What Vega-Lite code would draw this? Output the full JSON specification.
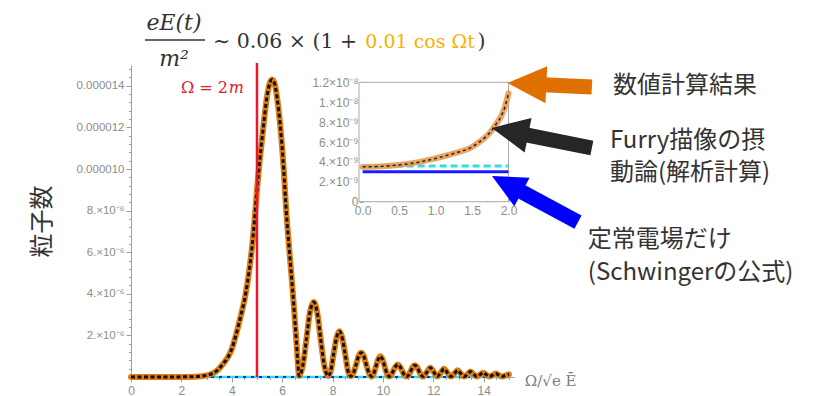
{
  "$schema": "https://vega.github.io/schema/vega-lite/v6.json",
  "width": 383,
  "height": 312,
  "autosize": {"type": "none"},
  "padding": {"left": 131, "top": 65, "right": 303, "bottom": 19},
  "background": "white",
  "config": {
    "view": {"stroke": null},
    "axis": {"grid": false, "labelFont": "Liberation Sans", "labelColor": "#8c8c8c", "domainColor": "#a0a0a0", "tickColor": "#a0a0a0", "labelFlush": false}
  },
  "datasets": {
    "main": [
      {"x": 0, "y": 4e-9}, {"x": 0.5, "y": 4e-9}, {"x": 1, "y": 4e-9}, {"x": 1.5, "y": 5e-9}, {"x": 2, "y": 6e-9},
      {"x": 2.5, "y": 1.5e-8}, {"x": 2.8, "y": 4e-8}, {"x": 3.0, "y": 8e-8}, {"x": 3.15, "y": 1.3e-7}, {"x": 3.3, "y": 2.1e-7},
      {"x": 3.45, "y": 3.5e-7}, {"x": 3.55, "y": 4.8e-7}, {"x": 3.7, "y": 7e-7}, {"x": 3.87, "y": 1.0e-6}, {"x": 4.0, "y": 1.35e-6},
      {"x": 4.15, "y": 1.95e-6}, {"x": 4.35, "y": 2.9e-6}, {"x": 4.55, "y": 4.0e-6}, {"x": 4.7, "y": 5.2e-6}, {"x": 4.8, "y": 6.2e-6},
      {"x": 4.9, "y": 7.5e-6}, {"x": 5.0, "y": 9.0e-6}, {"x": 5.1, "y": 1.03e-5}, {"x": 5.25, "y": 1.2e-5}, {"x": 5.4, "y": 1.35e-5},
      {"x": 5.5, "y": 1.41e-5}, {"x": 5.6, "y": 1.43e-5}, {"x": 5.7, "y": 1.41e-5}, {"x": 5.8, "y": 1.34e-5}, {"x": 5.93, "y": 1.2e-5},
      {"x": 6.06, "y": 1.0e-5}, {"x": 6.16, "y": 8.0e-6}, {"x": 6.29, "y": 6.0e-6}, {"x": 6.4, "y": 4.4e-6}, {"x": 6.5, "y": 2.8e-6},
      {"x": 6.57, "y": 1.6e-6}, {"x": 6.62, "y": 7e-7}, {"x": 6.67, "y": 5e-8},
      {"x": 6.81, "y": 5e-7}, {"x": 6.96, "y": 1.8e-6}, {"x": 7.1, "y": 3.1e-6}, {"x": 7.25, "y": 3.6e-6}, {"x": 7.39, "y": 3.1e-6},
      {"x": 7.53, "y": 1.8e-6}, {"x": 7.68, "y": 5e-7}, {"x": 7.82, "y": 5e-8},
      {"x": 7.93, "y": 3e-7}, {"x": 8.04, "y": 1.1e-6}, {"x": 8.16, "y": 1.9e-6}, {"x": 8.27, "y": 2.2e-6}, {"x": 8.38, "y": 1.9e-6},
      {"x": 8.5, "y": 1.1e-6}, {"x": 8.61, "y": 3e-7}, {"x": 8.72, "y": 4e-8},
      {"x": 8.82, "y": 1.7e-7}, {"x": 8.93, "y": 5.8e-7}, {"x": 9.03, "y": 1.0e-6}, {"x": 9.14, "y": 1.17e-6}, {"x": 9.24, "y": 1.0e-6},
      {"x": 9.34, "y": 5.8e-7}, {"x": 9.45, "y": 1.7e-7}, {"x": 9.55, "y": 3e-8},
      {"x": 9.63, "y": 1.5e-7}, {"x": 9.72, "y": 5e-7}, {"x": 9.81, "y": 8.5e-7}, {"x": 9.89, "y": 1.0e-6}, {"x": 9.98, "y": 8.5e-7},
      {"x": 10.07, "y": 5e-7}, {"x": 10.16, "y": 1.5e-7}, {"x": 10.24, "y": 3e-8},
      {"x": 10.33, "y": 9e-8}, {"x": 10.41, "y": 3e-7}, {"x": 10.5, "y": 5.1e-7}, {"x": 10.59, "y": 6e-7}, {"x": 10.67, "y": 5.1e-7},
      {"x": 10.76, "y": 3e-7}, {"x": 10.85, "y": 9e-8}, {"x": 10.93, "y": 2e-8},
      {"x": 11.01, "y": 8e-8}, {"x": 11.1, "y": 2.8e-7}, {"x": 11.18, "y": 4.8e-7}, {"x": 11.26, "y": 5.6e-7}, {"x": 11.35, "y": 4.8e-7},
      {"x": 11.43, "y": 2.8e-7}, {"x": 11.52, "y": 8e-8}, {"x": 11.6, "y": 2e-8},
      {"x": 11.74, "y": 2.3e-7}, {"x": 11.88, "y": 4.5e-7}, {"x": 12.02, "y": 2.3e-7}, {"x": 12.15, "y": 2e-8},
      {"x": 12.29, "y": 2e-7}, {"x": 12.42, "y": 4e-7}, {"x": 12.56, "y": 2e-7}, {"x": 12.7, "y": 2e-8},
      {"x": 12.83, "y": 1.6e-7}, {"x": 12.96, "y": 3.2e-7}, {"x": 13.09, "y": 1.6e-7}, {"x": 13.22, "y": 2e-8},
      {"x": 13.35, "y": 1.3e-7}, {"x": 13.47, "y": 2.6e-7}, {"x": 13.6, "y": 1.3e-7}, {"x": 13.72, "y": 2e-8},
      {"x": 13.85, "y": 1.1e-7}, {"x": 13.97, "y": 2.1e-7}, {"x": 14.1, "y": 1.1e-7}, {"x": 14.22, "y": 2e-8},
      {"x": 14.35, "y": 9e-8}, {"x": 14.47, "y": 1.7e-7}, {"x": 14.6, "y": 9e-8}, {"x": 14.72, "y": 2e-8},
      {"x": 14.85, "y": 7e-8}, {"x": 15.0, "y": 1.3e-7}
    ],
    "inset": [
      {"x": 0, "y": 3.5e-9}, {"x": 0.25, "y": 3.55e-9}, {"x": 0.5, "y": 3.7e-9}, {"x": 0.75, "y": 3.95e-9},
      {"x": 1.0, "y": 4.35e-9}, {"x": 1.25, "y": 4.85e-9}, {"x": 1.5, "y": 5.5e-9}, {"x": 1.6, "y": 6.0e-9},
      {"x": 1.7, "y": 6.6e-9}, {"x": 1.76, "y": 7.07e-9}, {"x": 1.83, "y": 7.8e-9}, {"x": 1.9, "y": 8.6e-9},
      {"x": 1.95, "y": 9.5e-9}, {"x": 2.0, "y": 1.09e-8}
    ]
  },
  "layer": [
    {
      "layer": [
        {
          "data": {"values": [{}]},
          "mark": {"type": "rect", "fill": "white", "stroke": "#aaaaaa", "strokeWidth": 1},
          "encoding": {
            "x": {"datum": -0.05, "type": "quantitative",
              "scale": {"domain": [-0.05, 2.0], "range": [228, 377.5], "nice": false, "zero": false},
              "axis": {"orient": "bottom", "offset": -175.3, "title": null, "domain": false, "labels": false,
                "values": [0.1, 0.2, 0.3, 0.4, 0.6, 0.7, 0.8, 0.9, 1.1, 1.2, 1.3, 1.4, 1.6, 1.7, 1.8, 1.9],
                "tickSize": -2}},
            "x2": {"datum": 2.0},
            "y": {"datum": 0, "type": "quantitative",
              "scale": {"domain": [0, 1.2e-8], "range": [136.7, 17.3], "nice": false, "zero": false},
              "axis": {"orient": "left", "offset": -228, "title": null, "domain": false, "labels": false,
                "values": [5e-10, 1e-9, 1.5e-9, 2.5e-9, 3e-9, 3.5e-9, 4.5e-9, 5e-9, 5.5e-9, 6.5e-9, 7e-9, 7.5e-9, 8.5e-9, 9e-9, 9.5e-9, 1.05e-8, 1.1e-8, 1.15e-8],
                "tickSize": -2}},
            "y2": {"datum": 1.2e-8}
          }
        },
        {
          "layer": [
            {
              "data": {"values": [{"x": 0, "y": 3.0e-9}, {"x": 2.0, "y": 3.0e-9}]},
              "mark": {"type": "line", "color": "#1a1aff", "strokeWidth": 3},
              "encoding": {
                "x": {"field": "x", "type": "quantitative",
                  "scale": {"domain": [-0.05, 2.0], "range": [228, 377.5], "nice": false, "zero": false},
                  "axis": {"orient": "bottom", "offset": -175.3, "title": null, "domain": false,
                    "values": [0, 0.5, 1.0, 1.5, 2.0], "format": ".1f",
                    "tickSize": -4, "labelFontSize": 12, "labelPadding": 8}},
                "y": {"field": "y", "type": "quantitative",
                  "scale": {"domain": [0, 1.2e-8], "range": [136.7, 17.3], "nice": false, "zero": false},
                  "axis": {"orient": "left", "offset": -228, "title": null, "domain": false,
                    "values": [0, 2e-9, 4e-9, 6e-9, 8e-9, 1e-8, 1.2e-8],
                    "labelExpr": "datum.value < 1e-10 ? '0' : datum.value < 9e-9 ? format(datum.value*1e9, '.0f') + '.×10⁻⁹' : datum.value < 1.1e-8 ? '1.×10⁻⁸' : '1.2×10⁻⁸'",
                    "tickSize": -4, "labelFontSize": 12, "labelPadding": 5}}
              }
            },
            {
              "data": {"values": [{"x": 0, "y": 3.6e-9}, {"x": 2.0, "y": 3.6e-9}]},
              "mark": {"type": "line", "color": "#33dede", "strokeWidth": 3, "strokeDash": [7, 4]},
              "encoding": {"x": {"field": "x", "type": "quantitative"}, "y": {"field": "y", "type": "quantitative"}}
            },
            {
              "data": {"name": "inset"},
              "mark": {"type": "line", "color": "#e8974a", "strokeWidth": 6, "opacity": 0.85, "interpolate": "monotone", "strokeCap": "round"},
              "encoding": {"x": {"field": "x", "type": "quantitative"}, "y": {"field": "y", "type": "quantitative"}}
            },
            {
              "data": {"name": "inset"},
              "mark": {"type": "line", "color": "#222222", "strokeWidth": 1.5, "strokeDash": [3, 3], "interpolate": "monotone"},
              "encoding": {"x": {"field": "x", "type": "quantitative"}, "y": {"field": "y", "type": "quantitative"}}
            }
          ]
        }
      ],
      "resolve": {"scale": {"x": "shared", "y": "shared"}, "axis": {"x": "independent", "y": "independent"}}
    },
    {
      "layer": [
        {
          "data": {"values": [{"x": 0, "y": 3.6e-9}, {"x": 15, "y": 3.6e-9}]},
          "mark": {"type": "line", "color": "#33dede", "strokeWidth": 2.5},
          "encoding": {
            "x": {"field": "x", "type": "quantitative",
              "scale": {"domain": [0, 15.2], "nice": false, "zero": false},
              "axis": {"orient": "bottom", "title": null, "labels": false, "domain": false,
                "values": [0.5, 1, 1.5, 2.5, 3, 3.5, 4.5, 5, 5.5, 6.5, 7, 7.5, 8.5, 9, 9.5, 10.5, 11, 11.5, 12.5, 13, 13.5, 14.5, 15],
                "tickSize": 2.5}},
            "y": {"field": "y", "type": "quantitative",
              "scale": {"domain": [0, 1.5e-5], "nice": false, "zero": false},
              "axis": {"orient": "left", "title": null, "labels": false, "domain": false,
                "values": [4e-7, 8e-7, 1.2e-6, 1.6e-6, 2.4e-6, 2.8e-6, 3.2e-6, 3.6e-6, 4.4e-6, 4.8e-6, 5.2e-6, 5.6e-6, 6.4e-6, 6.8e-6, 7.2e-6, 7.6e-6, 8.4e-6, 8.8e-6, 9.2e-6, 9.6e-6, 1.04e-5, 1.08e-5, 1.12e-5, 1.16e-5, 1.24e-5, 1.28e-5, 1.32e-5, 1.36e-5, 1.44e-5, 1.48e-5],
                "tickSize": 2.5}}
          }
        },
        {
          "layer": [
            {
              "data": {"values": [{"x": 0, "y": 3.0e-9}, {"x": 15, "y": 3.0e-9}]},
              "mark": {"type": "line", "color": "#1a1aff", "strokeWidth": 2, "strokeDash": [3, 5]},
              "encoding": {
                "x": {"field": "x", "type": "quantitative",
                  "scale": {"domain": [0, 15.2], "nice": false, "zero": false},
                  "axis": {"orient": "bottom", "title": null, "values": [0, 2, 4, 6, 8, 10, 12, 14], "format": "d",
                    "tickSize": 5, "labelFontSize": 12, "labelPadding": 3}},
                "y": {"field": "y", "type": "quantitative",
                  "scale": {"domain": [0, 1.5e-5], "nice": false, "zero": false},
                  "axis": {"orient": "left", "title": "粒子数", "titleFont": "Noto Sans CJK JP", "titleFontSize": 24, "titleFontWeight": "normal", "titleColor": "#333333", "titlePadding": 22,
                    "values": [2e-6, 4e-6, 6e-6, 8e-6, 1e-5, 1.2e-5, 1.4e-5],
                    "labelExpr": "datum.value > 9e-6 ? format(datum.value, '.6f') : format(datum.value*1e6, '.0f') + '.×10⁻⁶'",
                    "tickSize": 5, "labelFontSize": 11.5, "labelPadding": 2}}
              }
            },
            {
              "data": {"name": "main"},
              "mark": {"type": "line", "color": "#e07d12", "strokeWidth": 6, "interpolate": "monotone", "strokeCap": "round"},
              "encoding": {"x": {"field": "x", "type": "quantitative"}, "y": {"field": "y", "type": "quantitative"}}
            },
            {
              "data": {"name": "main"},
              "mark": {"type": "line", "color": "#111111", "strokeWidth": 3, "strokeDash": [4, 2.5], "interpolate": "monotone"},
              "encoding": {"x": {"field": "x", "type": "quantitative"}, "y": {"field": "y", "type": "quantitative"}}
            },
            {
              "data": {"values": [{}]},
              "mark": {"type": "rule", "color": "#e8182a", "strokeWidth": 2.5},
              "encoding": {"x": {"datum": 5, "type": "quantitative"}, "y": {"datum": 0, "type": "quantitative"}, "y2": {"datum": 1.51e-5}}
            },
            {
              "data": {"values": [{"x": 3.85, "y": 1.365e-5, "label": "Ω = 2"}]},
              "mark": {"type": "text", "align": "right", "baseline": "alphabetic", "font": "DejaVu Serif", "fontSize": 16, "color": "#e8182a"},
              "encoding": {"x": {"field": "x", "type": "quantitative"}, "y": {"field": "y", "type": "quantitative"}, "text": {"field": "label"}}
            },
            {
              "data": {"values": [{"x": 3.88, "y": 1.365e-5, "label": "m"}]},
              "mark": {"type": "text", "align": "left", "baseline": "alphabetic", "font": "DejaVu Serif", "fontStyle": "italic", "fontSize": 16, "color": "#e8182a"},
              "encoding": {"x": {"field": "x", "type": "quantitative"}, "y": {"field": "y", "type": "quantitative"}, "text": {"field": "label"}}
            },
            {
              "data": {"values": [{"x": 1.706, "y": 1.668e-5, "label": "eE(t)"}, {"x": 1.706, "y": 1.495e-5, "label": "m²"}]},
              "mark": {"type": "text", "align": "center", "baseline": "alphabetic", "font": "DejaVu Serif", "fontStyle": "italic", "fontSize": 22, "color": "#333333"},
              "encoding": {"x": {"field": "x", "type": "quantitative"}, "y": {"field": "y", "type": "quantitative"}, "text": {"field": "label"}}
            },
            {
              "data": {"values": [{"x": 0.556, "x2": 2.937, "y": 1.62e-5}]},
              "mark": {"type": "rule", "color": "#333333", "strokeWidth": 1.5},
              "encoding": {"x": {"field": "x", "type": "quantitative"}, "x2": {"field": "x2"}, "y": {"field": "y", "type": "quantitative"}}
            },
            {
              "data": {"values": [{"x": 3.254, "y": 1.58e-5, "label": "∼ 0.06 × (1 +"}, {"x": 13.75, "y": 1.58e-5, "label": ")"}]},
              "mark": {"type": "text", "align": "left", "baseline": "alphabetic", "font": "DejaVu Serif", "fontSize": 20.5, "color": "#333333"},
              "encoding": {"x": {"field": "x", "type": "quantitative"}, "y": {"field": "y", "type": "quantitative"}, "text": {"field": "label"}}
            },
            {
              "data": {"values": [{"x": 9.3, "y": 1.58e-5, "label": "0.01 cos Ωt"}]},
              "mark": {"type": "text", "align": "left", "baseline": "alphabetic", "font": "DejaVu Serif", "fontSize": 19, "color": "#f6b200"},
              "encoding": {"x": {"field": "x", "type": "quantitative"}, "y": {"field": "y", "type": "quantitative"}, "text": {"field": "label"}}
            },
            {
              "data": {"values": [{"x": 15.63, "y": -1.9e-7, "label": "Ω/√e Ē"}]},
              "mark": {"type": "text", "align": "left", "baseline": "middle", "font": "DejaVu Serif", "fontSize": 15, "color": "#808080"},
              "encoding": {"x": {"field": "x", "type": "quantitative"}, "y": {"field": "y", "type": "quantitative"}, "text": {"field": "label"}}
            },
            {
              "data": {"values": [
                {"x": 19.13, "y": 1.399e-5, "label": "数値計算結果"},
                {"x": 19.01, "y": 1.135e-5, "label": "Furry描像の摂"},
                {"x": 19.01, "y": 9.81e-6, "label": "動論(解析計算)"},
                {"x": 18.13, "y": 6.59e-6, "label": "定常電場だけ"},
                {"x": 18.13, "y": 5.0e-6, "label": "(Schwingerの公式)"}
              ]},
              "mark": {"type": "text", "align": "left", "baseline": "middle", "font": "Noto Sans CJK JP", "fontSize": 24, "color": "#333333"},
              "encoding": {"x": {"field": "x", "type": "quantitative"}, "y": {"field": "y", "type": "quantitative"}, "text": {"field": "label"}}
            },
            {
              "data": {"values": [{"x": 15.71, "y": 1.409e-5, "x2": 18.29, "y2": 1.394e-5}]},
              "mark": {"type": "rule", "color": "#e07000", "strokeWidth": 15},
              "encoding": {"x": {"field": "x", "type": "quantitative"}, "y": {"field": "y", "type": "quantitative"}, "x2": {"field": "x2"}, "y2": {"field": "y2"}}
            },
            {
              "data": {"values": [{"x": 15.71, "y": 1.409e-5}]},
              "mark": {"type": "point", "shape": "M -1 0 L 1 -0.95 L 1 0.95 Z", "size": 1521, "filled": true, "opacity": 1, "color": "#e07000", "angle": 2.7, "strokeWidth": 0},
              "encoding": {"x": {"field": "x", "type": "quantitative"}, "y": {"field": "y", "type": "quantitative"}}
            },
            {
              "data": {"values": [{"x": 15.04, "y": 1.18e-5, "x2": 18.29, "y2": 1.101e-5}]},
              "mark": {"type": "rule", "color": "#262626", "strokeWidth": 15},
              "encoding": {"x": {"field": "x", "type": "quantitative"}, "y": {"field": "y", "type": "quantitative"}, "x2": {"field": "x2"}, "y2": {"field": "y2"}}
            },
            {
              "data": {"values": [{"x": 15.04, "y": 1.18e-5}]},
              "mark": {"type": "point", "shape": "M -1 0 L 1 -0.95 L 1 0.95 Z", "size": 1369, "filled": true, "opacity": 1, "color": "#262626", "angle": 11.3, "strokeWidth": 0},
              "encoding": {"x": {"field": "x", "type": "quantitative"}, "y": {"field": "y", "type": "quantitative"}}
            },
            {
              "data": {"values": [{"x": 14.92, "y": 9.28e-6, "x2": 17.74, "y2": 7.45e-6}]},
              "mark": {"type": "rule", "color": "#0000ff", "strokeWidth": 15},
              "encoding": {"x": {"field": "x", "type": "quantitative"}, "y": {"field": "y", "type": "quantitative"}, "x2": {"field": "x2"}, "y2": {"field": "y2"}}
            },
            {
              "data": {"values": [{"x": 14.92, "y": 9.28e-6}]},
              "mark": {"type": "point", "shape": "M -1 0 L 1 -0.95 L 1 0.95 Z", "size": 1156, "filled": true, "opacity": 1, "color": "#0000ff", "angle": 28.1, "strokeWidth": 0},
              "encoding": {"x": {"field": "x", "type": "quantitative"}, "y": {"field": "y", "type": "quantitative"}}
            }
          ]
        }
      ],
      "resolve": {"scale": {"x": "shared", "y": "shared"}, "axis": {"x": "independent", "y": "independent"}}
    }
  ],
  "resolve": {"scale": {"x": "independent", "y": "independent"}, "axis": {"x": "independent", "y": "independent"}}
}
